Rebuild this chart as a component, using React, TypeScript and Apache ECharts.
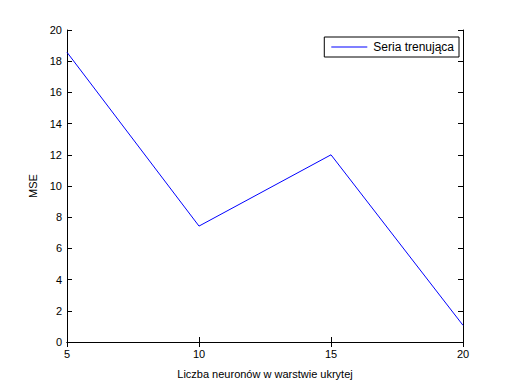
import React, { useEffect, useRef } from "react";
import * as echarts from "echarts";

const xValues = [5, 10, 15, 20];
const mseValues = [18.57, 7.43, 12.0, 1.07];
const seriesName = "Seria trenująca";
const xTitle = "Liczba neuronów w warstwie ukrytej";
const yTitle = "MSE";

export default function App() {
  const ref = useRef<HTMLDivElement>(null);
  useEffect(() => {
    if (!ref.current) return;
    const chart = echarts.init(ref.current, null, { renderer: "svg" });
    const font = "Liberation Sans";
    const axisLine = { show: true, lineStyle: { color: "#000", width: 1 } };
    const tick = { show: true, inside: true, length: 5, lineStyle: { color: "#000" } };
    chart.setOption({
      animation: false,
      backgroundColor: "#fff",
      textStyle: { fontFamily: font },
      grid: { left: 67, top: 30, right: 49, bottom: 42, containLabel: false },
      legend: {
        show: true,
        right: 53,
        top: 37,
        orient: "vertical",
        backgroundColor: "#fff",
        borderColor: "#000",
        borderWidth: 1,
        borderRadius: 0,
        padding: [4, 5, 4, 7],
        itemWidth: 36,
        itemHeight: 1,
        itemGap: 4,
        icon: "rect",
        itemStyle: { color: "#0000ff" },
        textStyle: { fontFamily: font, fontSize: 12, color: "#000", padding: [0, 0, 0, 1] },
        data: [{ name: seriesName, itemStyle: { color: "#0000ff" } }],
      },
      xAxis: [
        {
          type: "value",
          min: 5,
          max: 20,
          interval: 5,
          name: xTitle,
          nameLocation: "middle",
          nameGap: 26,
          nameTextStyle: { fontFamily: font, fontSize: 11, color: "#000" },
          axisLine,
          axisTick: tick,
          splitLine: { show: false },
          axisLabel: { color: "#000", fontSize: 11, fontFamily: font, margin: 6 },
        },
        {
          type: "value",
          position: "top",
          min: 5,
          max: 20,
          interval: 5,
          axisLine,
          axisTick: tick,
          splitLine: { show: false },
          axisLabel: { show: false },
        },
      ],
      yAxis: [
        {
          type: "value",
          min: 0,
          max: 20,
          interval: 2,
          name: yTitle,
          nameLocation: "middle",
          nameGap: 27,
          nameRotate: 90,
          nameTextStyle: { fontFamily: font, fontSize: 11, color: "#000" },
          axisLine,
          axisTick: tick,
          splitLine: { show: false },
          axisLabel: { color: "#000", fontSize: 11, fontFamily: font, margin: 5 },
        },
        {
          type: "value",
          position: "right",
          min: 0,
          max: 20,
          interval: 2,
          axisLine,
          axisTick: tick,
          splitLine: { show: false },
          axisLabel: { show: false },
        },
      ],
      series: [
        {
          name: seriesName,
          type: "line",
          xAxisIndex: 0,
          yAxisIndex: 0,
          data: xValues.map((x, i) => [x, mseValues[i]]),
          showSymbol: false,
          symbol: "none",
          color: "#0000ff",
          lineStyle: { color: "#0000ff", width: 1 },
          itemStyle: { color: "#0000ff" },
        },
      ],
    });
    return () => chart.dispose();
  }, []);
  return (
    <div
      ref={ref}
      style={{ position: "fixed", left: 0, top: 0, width: 512, height: 384 }}
    />
  );
}
